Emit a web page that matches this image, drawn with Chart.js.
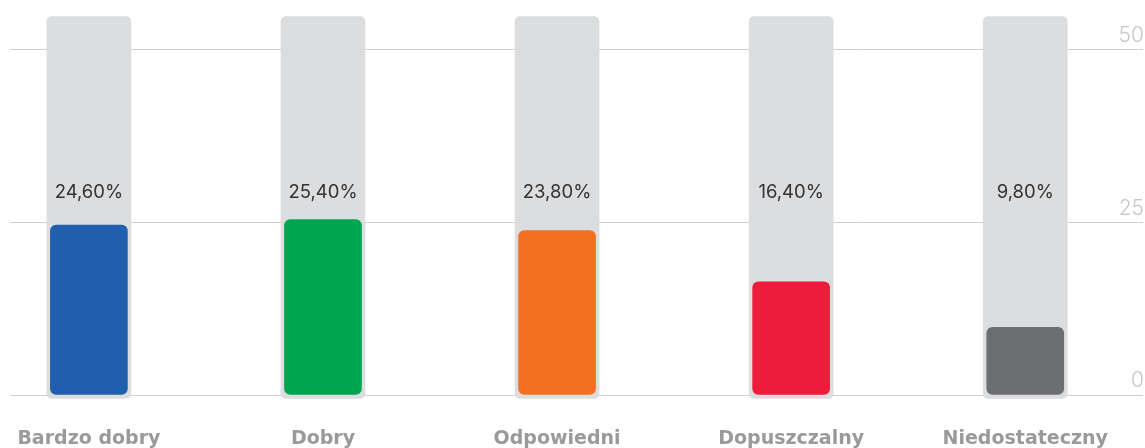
<!DOCTYPE html>
<html>
<head>
<meta charset="utf-8">
<script src="https://cdn.jsdelivr.net/npm/chart.js@4.4.1/dist/chart.umd.min.js"></script>
<style>
  html, body { margin: 0; padding: 0; background: #fff; }
  #wrap { width: 1145px; height: 448px; }
</style>
</head>
<body>
<div id="wrap"><canvas id="chart"></canvas></div>
<script>
// oceny - rozkład procentowy
const categories = ['Bardzo dobry', 'Dobry', 'Odpowiedni', 'Dopuszczalny', 'Niedostateczny']
const values = [24.6, 25.4, 23.8, 16.4, 9.8]
const valueLabels = ['24,60%', '25,40%', '23,80%', '16,40%', '9,80%']
const barColors = ['#1f5fad', '#00a54f', '#f37021', '#ee1b3b', '#6d6e71']
const trackRange = [-0.5, 54.8]
const yTicks = [0, 25, 50]
const labelLevel = 29.3

// napisy z procentami na stałej wysokości
const valueLabelPlugin = {
  id: 'valueLabels',
  afterDatasetsDraw(chart) {
    const { ctx, scales } = chart
    const meta = chart.getDatasetMeta(0)
    const y = scales.y.getPixelForValue(labelLevel)
    ctx.save()
    ctx.font = '400 18.5px Inter, "Noto Sans", sans-serif'
    ctx.fillStyle = '#333333'
    ctx.textAlign = 'center'
    ctx.textBaseline = 'middle'
    meta.data.forEach((bar, i) => {
      ctx.fillText(valueLabels[i], bar.x, y)
    })
    ctx.restore()
  }
}

new Chart(document.getElementById('chart'), {
  type: 'bar',
  data: {
    datasets: [
      {
        data: values.map((v, i) => ({ x: i, y: v })),
        backgroundColor: barColors,
        borderRadius: 6,
        borderSkipped: false,
        barThickness: 77,
        grouped: false,
        order: 1
      },
      {
        data: categories.map((_, i) => ({ x: i, y: trackRange })),
        backgroundColor: '#dcdddf',
        borderRadius: 5,
        borderSkipped: false,
        barThickness: 84,
        grouped: false,
        clip: false,
        order: 2
      }
    ]
  },
  options: {
    responsive: true,
    maintainAspectRatio: false,
    animation: false,
    layout: { padding: { left: 10, top: 11, right: 0, bottom: 0 } },
    plugins: {
      legend: { display: false },
      tooltip: { enabled: false }
    },
    scales: {
      x: {
        type: 'linear',
        min: -0.337,
        max: 4.503,
        offset: false,
        grid: { display: false },
        border: { display: false },
        afterBuildTicks: (axis) => { axis.ticks = categories.map((_, i) => ({ value: i })) },
        afterFit: (axis) => {
          axis.height = 53
          axis.paddingLeft = 0
          axis.paddingRight = 0
        },
        ticks: {
          autoSkip: false,
          maxRotation: 0,
          padding: 25,
          color: '#999a9c',
          font: { family: '"DejaVu Sans", sans-serif', size: 19, weight: 'bold' },
          callback: (v) => categories[v]
        }
      },
      y: {
        position: 'right',
        min: 0,
        max: 55.6,
        afterBuildTicks: (axis) => { axis.ticks = yTicks.map(v => ({ value: v })) },
        afterFit: (axis) => {
          axis.paddingTop = 0
          axis.paddingBottom = 0
        },
        grid: { color: '#cfcfcf', lineWidth: 1, drawTicks: false },
        border: { display: false },
        ticks: {
          mirror: true,
          padding: 1,
          labelOffset: -14,
          color: '#c6c7c9',
          font: { family: 'Inter, "Noto Sans", sans-serif', size: 21, weight: 300 }
        }
      }
    }
  },
  plugins: [valueLabelPlugin]
})
</script>
</body>
</html>
